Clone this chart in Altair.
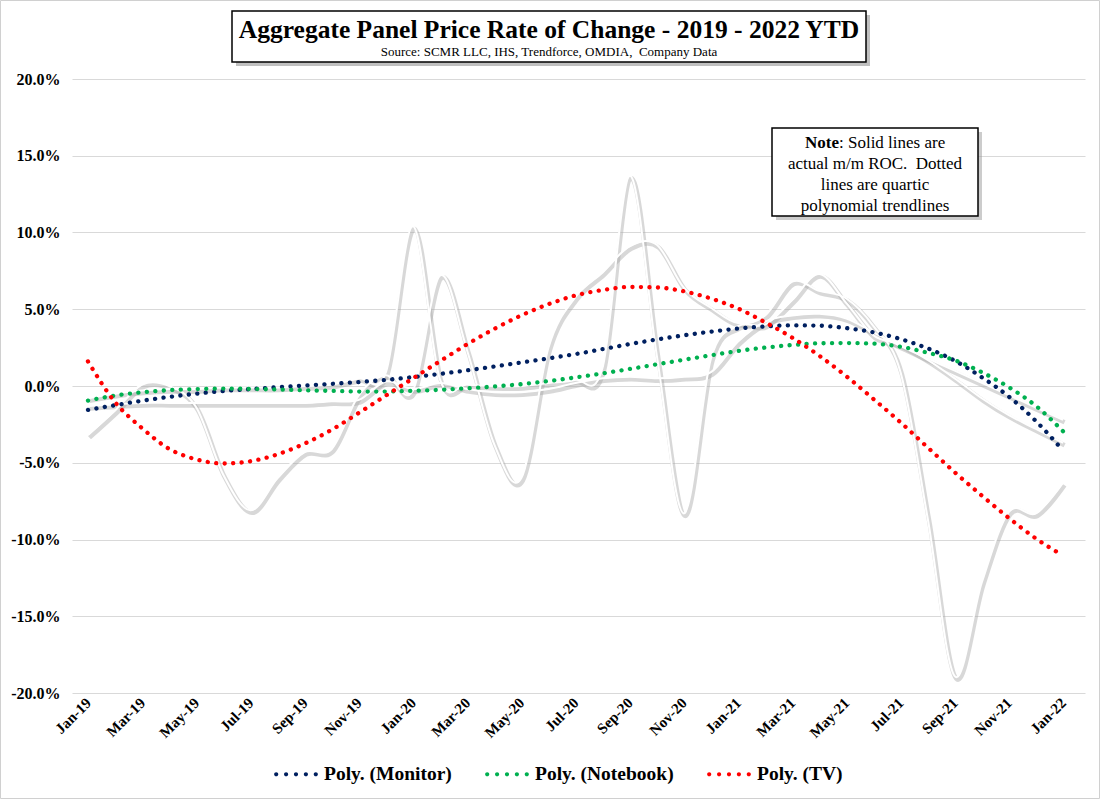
import json
import altair as alt
import pandas as pd

# ---------------- data (percent m/m) ----------------
months = ["Jan-19", "Feb-19", "Mar-19", "Apr-19", "May-19", "Jun-19", "Jul-19", "Aug-19",
          "Sep-19", "Oct-19", "Nov-19", "Dec-19", "Jan-20", "Feb-20", "Mar-20", "Apr-20",
          "May-20", "Jun-20", "Jul-20", "Aug-20", "Sep-20", "Oct-20", "Nov-20", "Dec-20",
          "Jan-21", "Feb-21", "Mar-21", "Apr-21", "May-21", "Jun-21", "Jul-21", "Aug-21",
          "Sep-21", "Oct-21", "Nov-21", "Dec-21", "Jan-22"]

monitor_actual = [-0.8, -0.5, -0.3, -0.2, -0.2, -0.1, -0.1, -0.1, 0.0, 0.1, 0.5, 0.9,
                  10.4, 0.4, 0.1, 0.0, 0.0, 0.2, 0.4, 1.2, 13.7, 2.0, -8.3, 1.8,
                  3.9, 4.0, 5.6, 7.3, 5.4, 3.3, 2.7, 1.7, 0.5, -0.8, -1.9, -2.8, -3.7]
notebook_actual = [-1.3, -1.2, -1.1, -1.1, -1.1, -1.1, -1.1, -1.1, -1.1, -1.0, -0.9, 0.3,
                   -0.2, 0.2, -0.2, -0.4, -0.4, -0.2, 0.2, 0.5, 0.6, 0.5, 0.6, 0.9,
                   2.9, 4.2, 4.6, 4.7, 4.4, 3.5, 2.6, 1.8, 1.0, 0.2, -0.6, -1.4, -2.2]
tv_actual = [-3.2, -1.6, 0.1, 0.0, -1.4, -5.8, -8.1, -6.0, -4.3, -4.1, -0.6, 0.7,
             -0.3, 7.2, 2.3, -3.8, -6.0, 2.5, 5.8, 7.4, 9.1, 9.2, 6.4, 5.1,
             4.1, 4.6, 6.8, 6.2, 5.7, 3.9, 0.9, -8.6, -18.9, -12.8, -8.2, -8.3, -6.3]

monitor_poly = [-1.56, -1.25, -0.96, -0.71, -0.50, -0.33, -0.20, -0.08, 0.03, 0.14, 0.26, 0.40,
                0.58, 0.79, 1.02, 1.27, 1.53, 1.80, 2.08, 2.40, 2.73, 3.03, 3.30, 3.54,
                3.74, 3.88, 3.95, 3.93, 3.77, 3.50, 3.06, 2.45, 1.65, 0.57, -0.69, -2.29, -4.20]
notebook_poly = [-0.95, -0.62, -0.41, -0.27, -0.20, -0.17, -0.19, -0.23, -0.28, -0.32, -0.36, -0.36,
                 -0.31, -0.25, -0.15, -0.03, 0.12, 0.32, 0.56, 0.82, 1.11, 1.41, 1.71, 2.00,
                 2.28, 2.50, 2.67, 2.78, 2.80, 2.76, 2.56, 2.17, 1.68, 0.90, -0.08, -1.30, -2.95]
tv_poly = [1.60, -1.05, -2.75, -4.10, -4.78, -5.05, -4.90, -4.45, -3.75, -2.85, -1.75, -0.62,
           0.50, 1.62, 2.72, 3.72, 4.60, 5.33, 5.90, 6.25, 6.45, 6.42, 6.17, 5.70,
           5.05, 4.15, 3.15, 1.97, 0.63, -0.85, -2.37, -4.00, -5.62, -7.14, -8.60, -9.94, -11.05]

trend_names = ["Poly. (Monitor)", "Poly. (Notebook)", "Poly. (TV)"]
trend_colors = ["#002060", "#00B050", "#FF0000"]
y_ticks = [-0.20, -0.15, -0.10, -0.05, 0.0, 0.05, 0.10, 0.15, 0.20]

title_text = "Aggregate Panel Price Rate of Change - 2019 - 2022 YTD"
subtitle_text = "Source: SCMR LLC, IHS, Trendforce, OMDIA,\u00a0 Company Data"
note_lines = ["actual m/m ROC.\u00a0 Dotted", "lines are quartic", "polynomial trendlines"]

# ---------------- tables ----------------
actual_rows = []
for name, vals in [("Monitor", monitor_actual), ("Notebook", notebook_actual), ("TV", tv_actual)]:
    for i, v in enumerate(vals):
        actual_rows.append({"idx": i, "month": months[i], "series": name, "value": v / 100})
actual_df = pd.DataFrame(actual_rows)

trend_rows = []
for name, vals in zip(trend_names, [monitor_poly, notebook_poly, tv_poly]):
    for i, v in enumerate(vals):
        trend_rows.append({"idx": i, "month": months[i], "series": name, "value": v / 100})
trend_df = pd.DataFrame(trend_rows)

FONT = "Liberation Serif"
W, H = 1013, 614

label_expr = json.dumps(months).replace('"', "'") + "[datum.value]"

x_enc = alt.X("idx:Q",
              scale=alt.Scale(domain=[-0.59, 36.81], nice=False, zero=False),
              axis=alt.Axis(values=list(range(0, 37, 2)), labelExpr=label_expr,
                            labelAngle=315, labelAlign="right", labelBaseline="middle",
                            labelPadding=7, labelFont=FONT, labelFontSize=15,
                            labelFontWeight="bold", labelColor="black",
                            ticks=False, domain=False, grid=False, title=None,
                            labelOverlap=False))
y_enc = alt.Y("value:Q",
              scale=alt.Scale(domain=[-0.2, 0.2], nice=False, zero=False),
              axis=alt.Axis(values=y_ticks,
                            labelExpr="(datum.value < -0.0001 ? '-' : '') + format(abs(datum.value), '.1%')",
                            labelFont=FONT, labelFontSize=16, labelFontWeight="bold",
                            labelColor="black", labelPadding=12, ticks=False, domain=False,
                            grid=True, gridColor="#d9d9d9", gridWidth=1, title=None))

one = alt.Data(values=[{"k": 1}])

# outer border
border = alt.Chart(one).mark_rect(fill="transparent", stroke="#d0d0d0", strokeWidth=1).encode(
    x=alt.value(-71.5), x2=alt.value(1100 - 72 - 0.5), y=alt.value(-78.5), y2=alt.value(799 - 79 - 0.5))

# title box
title_shadow = alt.Chart(one).mark_rect(fill="#8c8c8c", opacity=0.55).encode(
    x=alt.value(164), x2=alt.value(798), y=alt.value(-64), y2=alt.value(-13))
title_box = alt.Chart(one).mark_rect(fill="white", stroke="black", strokeWidth=1.5).encode(
    x=alt.value(160), x2=alt.value(794), y=alt.value(-68), y2=alt.value(-17))
title_mark = alt.Chart(one).mark_text(text=title_text, font=FONT, fontSize=25.5, fontWeight="bold",
                                      color="black", align="center", baseline="alphabetic").encode(
    x=alt.value(477), y=alt.value(-41))
subtitle_mark = alt.Chart(one).mark_text(text=subtitle_text, font=FONT, fontSize=13,
                                         color="black", align="center", baseline="alphabetic").encode(
    x=alt.value(477), y=alt.value(-23))

# note box
note_shadow = alt.Chart(one).mark_rect(fill="#9a9a9a", opacity=0.5).encode(
    x=alt.value(704), x2=alt.value(910), y=alt.value(53), y2=alt.value(141))
note_box = alt.Chart(one).mark_rect(fill="white", stroke="black", strokeWidth=1.5).encode(
    x=alt.value(700), x2=alt.value(906), y=alt.value(49), y2=alt.value(137))
note_bold = alt.Chart(one).mark_text(text="Note", font=FONT, fontSize=17, fontWeight="bold",
                                     color="black", align="right", baseline="alphabetic").encode(
    x=alt.value(767), y=alt.value(69))
note_rest = alt.Chart(one).mark_text(text=": Solid lines are", font=FONT, fontSize=17,
                                     color="black", align="left", baseline="alphabetic").encode(
    x=alt.value(767), y=alt.value(69))
note_others = [
    alt.Chart(one).mark_text(text=t, font=FONT, fontSize=17, color="black", align="center",
                             baseline="alphabetic").encode(x=alt.value(803), y=alt.value(90 + 21 * k))
    for k, t in enumerate(note_lines)
]

# actual lines: shadow + white line
actual_shadow = alt.Chart(actual_df).mark_line(
    color="#a8a8a8", strokeWidth=4.5, opacity=0.45, interpolate="cardinal",
    xOffset=1.5, yOffset=2.5).encode(x=x_enc, y=y_enc, detail="series:N")
actual_line = alt.Chart(actual_df).mark_line(
    color="white", strokeWidth=2, interpolate="cardinal").encode(
    x=x_enc, y=y_enc, detail="series:N")

# dotted trendlines (one layer per series, constant colour)
trend_layers = [
    alt.Chart(trend_df).transform_filter(alt.datum.series == name).mark_line(
        color=col, strokeWidth=4.3, strokeDash=[0.1, 8.4], strokeCap="round",
        interpolate="monotone").encode(x=x_enc, y=y_enc)
    for name, col in zip(trend_names, trend_colors)
]

# legend: five round filled dots per entry
r = 0.095
dots = ""
for cx in [-0.9, -0.45, 0.0, 0.45, 0.9]:
    dots += f"M{cx - r:.3f},0A{r},{r} 0 1,0 {cx + r:.3f},0A{r},{r} 0 1,0 {cx - r:.3f},0Z"

legend_layer = alt.Chart(trend_df).transform_filter("datum.idx < 0").mark_point(
    filled=True).encode(
    x=x_enc, y=y_enc,
    fill=alt.Fill("series:N", scale=alt.Scale(domain=trend_names, range=trend_colors),
                  legend=alt.Legend(orient="none", legendX=201, legendY=672,
                                    direction="horizontal", title=None,
                                    symbolType=dots, symbolSize=1936, symbolOpacity=1,
                                    labelFont=FONT, labelFontSize=19.5, labelFontWeight="bold",
                                    labelColor="black", labelOffset=5, columnPadding=32,
                                    labelLimit=400)))

chart = alt.layer(
    border, title_shadow, title_box, title_mark, subtitle_mark,
    actual_shadow, actual_line, *trend_layers, legend_layer,
    note_shadow, note_box, note_bold, note_rest, *note_others
).properties(
    width=W, height=H,
    autosize=alt.AutoSizeParams(type="none"),
    padding={"left": 72, "top": 79, "right": 15, "bottom": 106},
    background="white"
).configure_view(stroke=None)

chart.save("out.html", embed_options={"renderer": "svg", "actions": False})
